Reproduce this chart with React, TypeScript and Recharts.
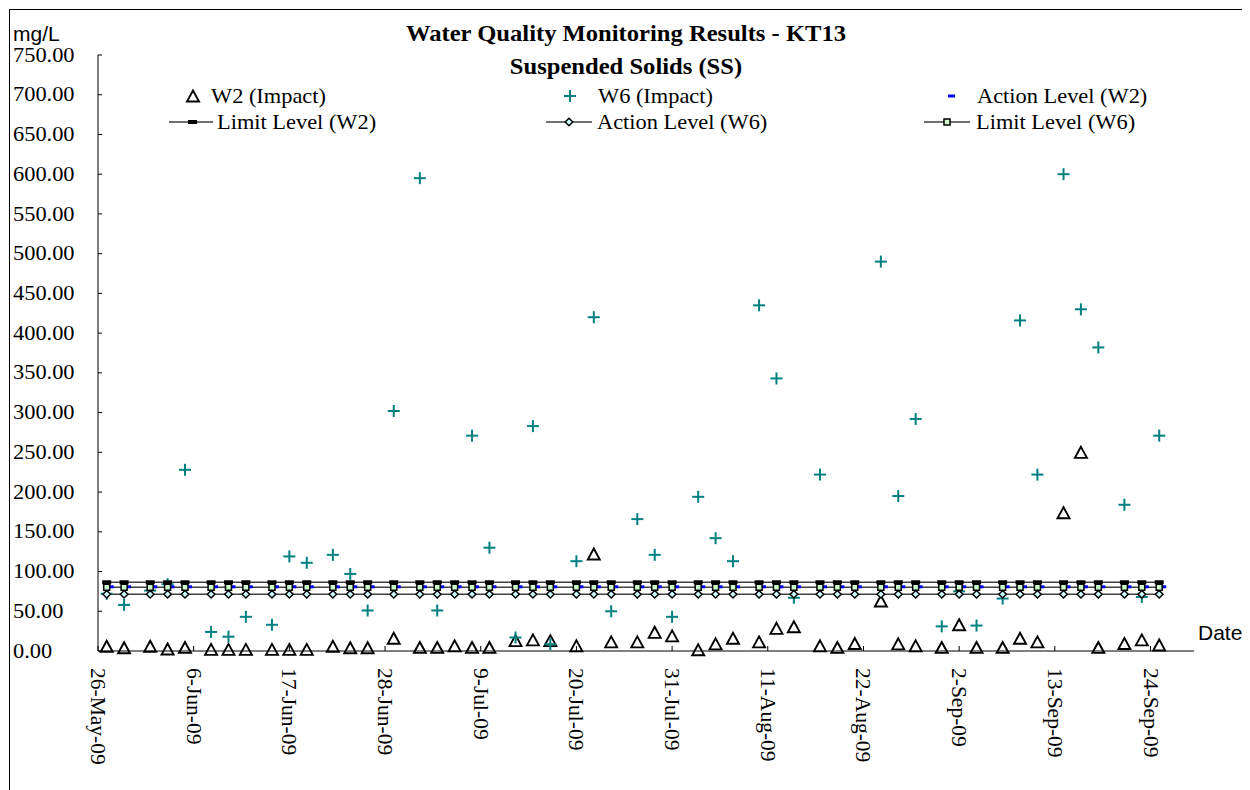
import React from "react";
import { ComposedChart, Line, XAxis, YAxis } from "recharts";

// sampling dates (2009)
const sampleDates = [
  "27-May", "29-May", "1-Jun", "3-Jun", "5-Jun", "8-Jun", "10-Jun", "12-Jun", "15-Jun", "17-Jun",
  "19-Jun", "22-Jun", "24-Jun", "26-Jun", "29-Jun", "2-Jul", "4-Jul", "6-Jul", "8-Jul", "10-Jul",
  "13-Jul", "15-Jul", "17-Jul", "20-Jul", "22-Jul", "24-Jul", "27-Jul", "29-Jul", "31-Jul", "3-Aug",
  "5-Aug", "7-Aug", "10-Aug", "12-Aug", "14-Aug", "17-Aug", "19-Aug", "21-Aug", "24-Aug", "26-Aug",
  "28-Aug", "31-Aug", "2-Sep", "4-Sep", "7-Sep", "9-Sep", "11-Sep", "14-Sep", "16-Sep", "18-Sep",
  "21-Sep", "23-Sep", "25-Sep",
];

const w2Impact = [
  6, 4, 6, 2.5, 4.5, 2, 2, 2, 2, 2,
  2, 6, 4, 4, 16, 4.5, 4.5, 6.5, 4.5, 4.5,
  13, 14, 13, 6.5, 122, 11.5, 11.5, 23.5, 19, 1.5,
  9, 16, 11.5, 28.5, 30.5, 6.5, 4.5, 9.5, 63, 9,
  6.5, 4.5, 33, 4.5, 4.5, 16, 11.5, 174, 250, 4.5,
  9.5, 14, 7.5,
];

const w6Impact = [
  72, 58, 76, 84, 228, 24, 18, 43, 33, 119,
  111, 121, 97, 51, 302, 595, 51, null, 271, 130,
  17, 283, 8.5, 113, 420, 50, 166, 121, 43, 194,
  142, 113, 435, 343, 67, 222, null, null, 490, 195,
  292, 31, 75, 32, 66, 416, 222, 600, 430, 382,
  184, 68, 271,
];

const actionLevelW2 = 80.8;
const limitLevelW2 = 86.5;
const actionLevelW6 = 71.4;
const limitLevelW6 = 80.2;

const xTickLabels = [
  "26-May-09", "6-Jun-09", "17-Jun-09", "28-Jun-09", "9-Jul-09", "20-Jul-09",
  "31-Jul-09", "11-Aug-09", "22-Aug-09", "2-Sep-09", "13-Sep-09", "24-Sep-09",
];
const yTicks = [0, 50, 100, 150, 200, 250, 300, 350, 400, 450, 500, 550, 600, 650, 700, 750];

const MONTHS: Record<string, number> = { May: 4, Jun: 5, Jul: 6, Aug: 7, Sep: 8 };
const BASE = Date.UTC(2009, 4, 26);
const toDay = (s: string) => {
  const [d, m] = s.split("-");
  return Math.round((Date.UTC(2009, MONTHS[m], Number(d)) - BASE) / 86400000);
};

const xTicks = xTickLabels.map(toDay);

const data = sampleDates.map((d, i) => ({
  day: toDay(d),
  w2: w2Impact[i],
  w6: w6Impact[i],
  al2: actionLevelW2,
  ll2: limitLevelW2,
  al6: actionLevelW6,
  ll6: limitLevelW6,
}));

const SERIF = "'Liberation Serif', 'Times New Roman', serif";
const SANS = "'Liberation Sans', Arial, sans-serif";

const W = 1236;
const H = 790;
const PLOT_LEFT = 88;
const PLOT_TOP = 45;
const PLOT_BOTTOM = 641;

// excel text comes out a bit wider than tall
function SText({ x, y, sx = 1.12, size = 20, bold = false, anchor = "start", family = SERIF, children }: any) {
  return (
    <text
      transform={`translate(${x} ${y}) scale(${sx} 1)`}
      x={0}
      y={0}
      textAnchor={anchor}
      dominantBaseline="central"
      fontFamily={family}
      fontSize={size}
      fontWeight={bold ? "bold" : "normal"}
      fill="#000"
    >
      {children}
    </text>
  );
}

const empty = (p: any) => p.cx == null || p.cy == null || p.value == null;

const TriangleDot = (p: any) => {
  if (empty(p)) return <g key={p.key} />;
  const { cx, cy } = p;
  return (
    <path
      key={p.key}
      d={`M${cx},${cy - 5.5}L${cx + 6},${cy + 5.5}L${cx - 6},${cy + 5.5}Z`}
      fill="none"
      stroke="#000"
      strokeWidth={1.9}
    />
  );
};

const PlusDot = (p: any) => {
  if (empty(p)) return <g key={p.key} />;
  const { cx, cy } = p;
  return (
    <g key={p.key} stroke="#008080" strokeWidth={2}>
      <line x1={cx - 6} x2={cx + 6} y1={cy} y2={cy} />
      <line x1={cx} x2={cx} y1={cy - 6} y2={cy + 6} />
    </g>
  );
};

const BlueDash = (p: any) => {
  if (empty(p)) return <g key={p.key} />;
  return <rect key={p.key} x={p.cx - 3} y={p.cy - 1.5} width={10} height={3} fill="#0000ff" />;
};

const BlackDash = (p: any) => {
  if (empty(p)) return <g key={p.key} />;
  return <rect key={p.key} x={p.cx - 4.5} y={p.cy - 2} width={9} height={4} fill="#000" />;
};

const DiamondDot = (p: any) => {
  if (empty(p)) return <g key={p.key} />;
  const { cx, cy } = p;
  return (
    <path
      key={p.key}
      d={`M${cx},${cy - 3.8}L${cx + 3.8},${cy}L${cx},${cy + 3.8}L${cx - 3.8},${cy}Z`}
      fill="#ccffff"
      stroke="#000"
      strokeWidth={1.5}
    />
  );
};

const SquareDot = (p: any) => {
  if (empty(p)) return <g key={p.key} />;
  return (
    <rect
      key={p.key}
      x={p.cx - 3}
      y={p.cy - 3}
      width={6}
      height={6}
      fill="#ccffcc"
      stroke="#000"
      strokeWidth={1.5}
    />
  );
};

const YTick = ({ y, payload }: any) => (
  <g>
    <line x1={PLOT_LEFT} x2={PLOT_LEFT + 4} y1={y} y2={y} stroke="#000" />
    <SText x={3} y={y}>{Number(payload.value).toFixed(2)}</SText>
  </g>
);

const XTick = ({ x, payload }: any) => {
  const label = xTickLabels[xTicks.indexOf(payload.value)] ?? "";
  const ty = PLOT_BOTTOM + 17;
  return (
    <g>
      <line x1={x} x2={x} y1={PLOT_BOTTOM} y2={PLOT_BOTTOM - 5} stroke="#000" />
      <text
        x={x}
        y={ty}
        transform={`rotate(90 ${x} ${ty})`}
        textAnchor="start"
        dominantBaseline="central"
        fontFamily={SERIF}
        fontSize={21.5}
        fill="#000"
      >
        {label}
      </text>
    </g>
  );
};

const LINE = "#404040";

function Overlay() {
  const r1 = 86;
  const r2 = 112;
  return (
    <svg
      width={W}
      height={H}
      style={{ position: "absolute", left: 0, top: 0, pointerEvents: "none" }}
    >
      <SText x={3} y={23} size={21} sx={1} family={SANS}>mg/L</SText>
      <SText x={616} y={23} size={23} sx={1.07} bold anchor="middle">
        Water Quality Monitoring Results - KT13
      </SText>
      <SText x={616} y={56} size={23} sx={1.07} bold anchor="middle">
        Suspended Solids (SS)
      </SText>
      <SText x={1188} y={622} size={21} sx={1} family={SANS}>Date</SText>

      {/* legend row 1 */}
      <TriangleDot cx={183} cy={r1} value={1} />
      <SText x={201} y={r1}>W2 (Impact)</SText>
      <PlusDot cx={560} cy={r1} value={1} />
      <SText x={588} y={r1}>W6 (Impact)</SText>
      <rect x={938} y={r1 - 1.5} width={7} height={3} fill="#0000ff" />
      <SText x={967} y={r1}>Action Level (W2)</SText>

      {/* legend row 2 */}
      <line x1={159} x2={203} y1={r2} y2={r2} stroke={LINE} strokeWidth={1.3} />
      <BlackDash cx={182.5} cy={r2} value={1} />
      <SText x={207} y={r2}>Limit Level (W2)</SText>
      <line x1={536} x2={582} y1={r2} y2={r2} stroke={LINE} strokeWidth={1.3} />
      <DiamondDot cx={559} cy={r2} value={1} />
      <SText x={587} y={r2}>Action Level (W6)</SText>
      <line x1={914} x2={960} y1={r2} y2={r2} stroke={LINE} strokeWidth={1.3} />
      <SquareDot cx={937} cy={r2} value={1} />
      <SText x={966} y={r2}>Limit Level (W6)</SText>
    </svg>
  );
}

export default function App() {
  return (
    <div
      style={{
        position: "relative",
        width: W,
        height: H,
        border: "1px solid #000",
        marginLeft: 1,
        marginTop: 1,
        background: "#fff",
      }}
    >
      <ComposedChart
        width={W}
        height={H}
        data={data}
        margin={{ top: PLOT_TOP, right: W - 1184, bottom: 0, left: 0 }}
      >
        <XAxis
          dataKey="day"
          type="number"
          domain={[0, 126]}
          ticks={xTicks}
          interval={0}
          height={H - PLOT_BOTTOM}
          axisLine={{ stroke: "#000" }}
          tickLine={false}
          tick={<XTick />}
        />
        <YAxis
          type="number"
          domain={[0, 750]}
          ticks={yTicks}
          interval={0}
          width={PLOT_LEFT}
          axisLine={{ stroke: "#000" }}
          tickLine={false}
          tick={<YTick />}
        />
        <Line dataKey="w2" stroke="none" dot={TriangleDot} activeDot={false} isAnimationActive={false} />
        <Line dataKey="w6" stroke="none" dot={PlusDot} activeDot={false} isAnimationActive={false} />
        <Line dataKey="al2" stroke="none" dot={BlueDash} activeDot={false} isAnimationActive={false} />
        <Line dataKey="ll2" stroke={LINE} strokeWidth={1.3} dot={BlackDash} activeDot={false} isAnimationActive={false} />
        <Line dataKey="al6" stroke={LINE} strokeWidth={1.3} dot={DiamondDot} activeDot={false} isAnimationActive={false} />
        <Line dataKey="ll6" stroke={LINE} strokeWidth={1.3} dot={SquareDot} activeDot={false} isAnimationActive={false} />
      </ComposedChart>
      <Overlay />
    </div>
  );
}
